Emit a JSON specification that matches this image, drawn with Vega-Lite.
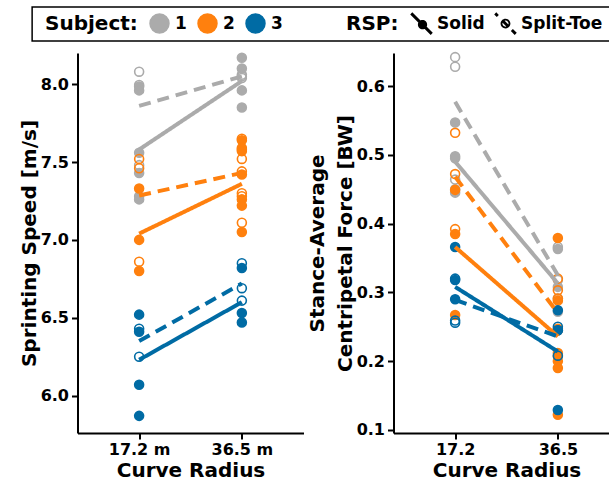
{
  "$schema": "https://vega.github.io/schema/vega-lite/v6.json",
  "padding": {"left": 19, "top": 6, "right": 0, "bottom": 0},
  "datasets": {
    "pts": [
      {"metric": "speed", "subject": "1", "rsp": "Solid", "radius": "17.2", "value": 7.985},
      {"metric": "speed", "subject": "1", "rsp": "Solid", "radius": "17.2", "value": 7.96},
      {"metric": "speed", "subject": "1", "rsp": "Solid", "radius": "17.2", "value": 7.56},
      {"metric": "speed", "subject": "1", "rsp": "Solid", "radius": "17.2", "value": 7.43},
      {"metric": "speed", "subject": "1", "rsp": "Solid", "radius": "17.2", "value": 7.28},
      {"metric": "speed", "subject": "1", "rsp": "Solid", "radius": "17.2", "value": 7.26},
      {"metric": "speed", "subject": "1", "rsp": "Split-Toe", "radius": "17.2", "value": 8.08},
      {"metric": "speed", "subject": "1", "rsp": "Split-Toe", "radius": "17.2", "value": 7.995},
      {"metric": "speed", "subject": "1", "rsp": "Split-Toe", "radius": "17.2", "value": 7.48},
      {"metric": "speed", "subject": "1", "rsp": "Solid", "radius": "36.5", "value": 8.17},
      {"metric": "speed", "subject": "1", "rsp": "Solid", "radius": "36.5", "value": 8.10},
      {"metric": "speed", "subject": "1", "rsp": "Solid", "radius": "36.5", "value": 7.96},
      {"metric": "speed", "subject": "1", "rsp": "Solid", "radius": "36.5", "value": 7.85},
      {"metric": "speed", "subject": "1", "rsp": "Split-Toe", "radius": "36.5", "value": 8.06},
      {"metric": "speed", "subject": "1", "rsp": "Split-Toe", "radius": "36.5", "value": 8.05},
      {"metric": "speed", "subject": "1", "rsp": "Split-Toe", "radius": "36.5", "value": 8.04},
      {"metric": "speed", "subject": "2", "rsp": "Solid", "radius": "17.2", "value": 7.33},
      {"metric": "speed", "subject": "2", "rsp": "Solid", "radius": "17.2", "value": 7.00},
      {"metric": "speed", "subject": "2", "rsp": "Solid", "radius": "17.2", "value": 6.80},
      {"metric": "speed", "subject": "2", "rsp": "Split-Toe", "radius": "17.2", "value": 7.52},
      {"metric": "speed", "subject": "2", "rsp": "Split-Toe", "radius": "17.2", "value": 7.46},
      {"metric": "speed", "subject": "2", "rsp": "Split-Toe", "radius": "17.2", "value": 6.86},
      {"metric": "speed", "subject": "2", "rsp": "Solid", "radius": "36.5", "value": 7.64},
      {"metric": "speed", "subject": "2", "rsp": "Solid", "radius": "36.5", "value": 7.59},
      {"metric": "speed", "subject": "2", "rsp": "Solid", "radius": "36.5", "value": 7.57},
      {"metric": "speed", "subject": "2", "rsp": "Solid", "radius": "36.5", "value": 7.42},
      {"metric": "speed", "subject": "2", "rsp": "Solid", "radius": "36.5", "value": 7.26},
      {"metric": "speed", "subject": "2", "rsp": "Solid", "radius": "36.5", "value": 7.22},
      {"metric": "speed", "subject": "2", "rsp": "Solid", "radius": "36.5", "value": 7.05},
      {"metric": "speed", "subject": "2", "rsp": "Split-Toe", "radius": "36.5", "value": 7.65},
      {"metric": "speed", "subject": "2", "rsp": "Split-Toe", "radius": "36.5", "value": 7.58},
      {"metric": "speed", "subject": "2", "rsp": "Split-Toe", "radius": "36.5", "value": 7.52},
      {"metric": "speed", "subject": "2", "rsp": "Split-Toe", "radius": "36.5", "value": 7.44},
      {"metric": "speed", "subject": "2", "rsp": "Split-Toe", "radius": "36.5", "value": 7.30},
      {"metric": "speed", "subject": "2", "rsp": "Split-Toe", "radius": "36.5", "value": 7.28},
      {"metric": "speed", "subject": "2", "rsp": "Split-Toe", "radius": "36.5", "value": 7.11},
      {"metric": "speed", "subject": "3", "rsp": "Solid", "radius": "17.2", "value": 6.52},
      {"metric": "speed", "subject": "3", "rsp": "Solid", "radius": "17.2", "value": 6.41},
      {"metric": "speed", "subject": "3", "rsp": "Solid", "radius": "17.2", "value": 6.07},
      {"metric": "speed", "subject": "3", "rsp": "Solid", "radius": "17.2", "value": 5.87},
      {"metric": "speed", "subject": "3", "rsp": "Split-Toe", "radius": "17.2", "value": 6.43},
      {"metric": "speed", "subject": "3", "rsp": "Split-Toe", "radius": "17.2", "value": 6.25},
      {"metric": "speed", "subject": "3", "rsp": "Solid", "radius": "36.5", "value": 6.82},
      {"metric": "speed", "subject": "3", "rsp": "Solid", "radius": "36.5", "value": 6.53},
      {"metric": "speed", "subject": "3", "rsp": "Solid", "radius": "36.5", "value": 6.47},
      {"metric": "speed", "subject": "3", "rsp": "Split-Toe", "radius": "36.5", "value": 6.85},
      {"metric": "speed", "subject": "3", "rsp": "Split-Toe", "radius": "36.5", "value": 6.69},
      {"metric": "speed", "subject": "3", "rsp": "Split-Toe", "radius": "36.5", "value": 6.61},

      {"metric": "force", "subject": "1", "rsp": "Solid", "radius": "17.2", "value": 0.547},
      {"metric": "force", "subject": "1", "rsp": "Solid", "radius": "17.2", "value": 0.498},
      {"metric": "force", "subject": "1", "rsp": "Solid", "radius": "17.2", "value": 0.495},
      {"metric": "force", "subject": "1", "rsp": "Solid", "radius": "17.2", "value": 0.450},
      {"metric": "force", "subject": "1", "rsp": "Solid", "radius": "17.2", "value": 0.445},
      {"metric": "force", "subject": "1", "rsp": "Split-Toe", "radius": "17.2", "value": 0.642},
      {"metric": "force", "subject": "1", "rsp": "Split-Toe", "radius": "17.2", "value": 0.628},
      {"metric": "force", "subject": "1", "rsp": "Split-Toe", "radius": "17.2", "value": 0.464},
      {"metric": "force", "subject": "1", "rsp": "Solid", "radius": "36.5", "value": 0.363},
      {"metric": "force", "subject": "1", "rsp": "Solid", "radius": "36.5", "value": 0.308},
      {"metric": "force", "subject": "1", "rsp": "Solid", "radius": "36.5", "value": 0.272},
      {"metric": "force", "subject": "1", "rsp": "Split-Toe", "radius": "36.5", "value": 0.366},
      {"metric": "force", "subject": "1", "rsp": "Split-Toe", "radius": "36.5", "value": 0.318},
      {"metric": "force", "subject": "1", "rsp": "Split-Toe", "radius": "36.5", "value": 0.291},
      {"metric": "force", "subject": "2", "rsp": "Solid", "radius": "17.2", "value": 0.449},
      {"metric": "force", "subject": "2", "rsp": "Solid", "radius": "17.2", "value": 0.385},
      {"metric": "force", "subject": "2", "rsp": "Solid", "radius": "17.2", "value": 0.267},
      {"metric": "force", "subject": "2", "rsp": "Split-Toe", "radius": "17.2", "value": 0.532},
      {"metric": "force", "subject": "2", "rsp": "Split-Toe", "radius": "17.2", "value": 0.472},
      {"metric": "force", "subject": "2", "rsp": "Split-Toe", "radius": "17.2", "value": 0.392},
      {"metric": "force", "subject": "2", "rsp": "Solid", "radius": "36.5", "value": 0.379},
      {"metric": "force", "subject": "2", "rsp": "Solid", "radius": "36.5", "value": 0.288},
      {"metric": "force", "subject": "2", "rsp": "Solid", "radius": "36.5", "value": 0.245},
      {"metric": "force", "subject": "2", "rsp": "Solid", "radius": "36.5", "value": 0.212},
      {"metric": "force", "subject": "2", "rsp": "Solid", "radius": "36.5", "value": 0.200},
      {"metric": "force", "subject": "2", "rsp": "Solid", "radius": "36.5", "value": 0.190},
      {"metric": "force", "subject": "2", "rsp": "Solid", "radius": "36.5", "value": 0.122},
      {"metric": "force", "subject": "2", "rsp": "Split-Toe", "radius": "36.5", "value": 0.320},
      {"metric": "force", "subject": "2", "rsp": "Split-Toe", "radius": "36.5", "value": 0.303},
      {"metric": "force", "subject": "2", "rsp": "Split-Toe", "radius": "36.5", "value": 0.291},
      {"metric": "force", "subject": "2", "rsp": "Split-Toe", "radius": "36.5", "value": 0.247},
      {"metric": "force", "subject": "2", "rsp": "Split-Toe", "radius": "36.5", "value": 0.207},
      {"metric": "force", "subject": "3", "rsp": "Solid", "radius": "17.2", "value": 0.366},
      {"metric": "force", "subject": "3", "rsp": "Solid", "radius": "17.2", "value": 0.318},
      {"metric": "force", "subject": "3", "rsp": "Solid", "radius": "17.2", "value": 0.290},
      {"metric": "force", "subject": "3", "rsp": "Split-Toe", "radius": "17.2", "value": 0.320},
      {"metric": "force", "subject": "3", "rsp": "Split-Toe", "radius": "17.2", "value": 0.259},
      {"metric": "force", "subject": "3", "rsp": "Split-Toe", "radius": "17.2", "value": 0.256},
      {"metric": "force", "subject": "3", "rsp": "Solid", "radius": "36.5", "value": 0.274},
      {"metric": "force", "subject": "3", "rsp": "Solid", "radius": "36.5", "value": 0.245},
      {"metric": "force", "subject": "3", "rsp": "Solid", "radius": "36.5", "value": 0.129},
      {"metric": "force", "subject": "3", "rsp": "Split-Toe", "radius": "36.5", "value": 0.250},
      {"metric": "force", "subject": "3", "rsp": "Split-Toe", "radius": "36.5", "value": 0.245},
      {"metric": "force", "subject": "3", "rsp": "Split-Toe", "radius": "36.5", "value": 0.208}
    ],
    "fit": [
      {"metric": "speed", "subject": "1", "rsp": "Solid", "radius": "17.2", "value": 7.58},
      {"metric": "speed", "subject": "1", "rsp": "Solid", "radius": "36.5", "value": 8.02},
      {"metric": "speed", "subject": "1", "rsp": "Split-Toe", "radius": "17.2", "value": 7.86},
      {"metric": "speed", "subject": "1", "rsp": "Split-Toe", "radius": "36.5", "value": 8.05},
      {"metric": "speed", "subject": "2", "rsp": "Solid", "radius": "17.2", "value": 7.04},
      {"metric": "speed", "subject": "2", "rsp": "Solid", "radius": "36.5", "value": 7.36},
      {"metric": "speed", "subject": "2", "rsp": "Split-Toe", "radius": "17.2", "value": 7.285},
      {"metric": "speed", "subject": "2", "rsp": "Split-Toe", "radius": "36.5", "value": 7.43},
      {"metric": "speed", "subject": "3", "rsp": "Solid", "radius": "17.2", "value": 6.23},
      {"metric": "speed", "subject": "3", "rsp": "Solid", "radius": "36.5", "value": 6.60},
      {"metric": "speed", "subject": "3", "rsp": "Split-Toe", "radius": "17.2", "value": 6.35},
      {"metric": "speed", "subject": "3", "rsp": "Split-Toe", "radius": "36.5", "value": 6.72},
      {"metric": "force", "subject": "1", "rsp": "Solid", "radius": "17.2", "value": 0.490},
      {"metric": "force", "subject": "1", "rsp": "Solid", "radius": "36.5", "value": 0.313},
      {"metric": "force", "subject": "1", "rsp": "Split-Toe", "radius": "17.2", "value": 0.577},
      {"metric": "force", "subject": "1", "rsp": "Split-Toe", "radius": "36.5", "value": 0.325},
      {"metric": "force", "subject": "2", "rsp": "Solid", "radius": "17.2", "value": 0.366},
      {"metric": "force", "subject": "2", "rsp": "Solid", "radius": "36.5", "value": 0.236},
      {"metric": "force", "subject": "2", "rsp": "Split-Toe", "radius": "17.2", "value": 0.468},
      {"metric": "force", "subject": "2", "rsp": "Split-Toe", "radius": "36.5", "value": 0.270},
      {"metric": "force", "subject": "3", "rsp": "Solid", "radius": "17.2", "value": 0.308},
      {"metric": "force", "subject": "3", "rsp": "Solid", "radius": "36.5", "value": 0.214},
      {"metric": "force", "subject": "3", "rsp": "Split-Toe", "radius": "17.2", "value": 0.289},
      {"metric": "force", "subject": "3", "rsp": "Split-Toe", "radius": "36.5", "value": 0.236}
    ]
  },
  "spacing": 7,
  "center": true,
  "vconcat": [
    {
      "width": 632,
      "height": 34,
      "view": {"stroke": "black", "strokeWidth": 1.5},
      "data": {"values": []},
      "mark": {"type": "rule"},
      "encoding": {}
    },
    {
      "spacing": 3,
      "resolve": {"scale": {"y": "independent", "x": "independent"}},
      "hconcat": [
        {
          "width": 226,
          "height": 380,
          "layer": [
            {
              "data": {"name": "pts"},
              "transform": [{"filter": "datum.metric === 'speed'"}],
              "mark": {"type": "circle", "size": 80, "strokeWidth": 1.6, "opacity": 1},
              "encoding": {
                "x": {"field": "radius", "type": "nominal", "scale": {"type": "point", "padding": 0.6},
                      "axis": {"title": "Curve Radius", "labelAngle": 0, "labelExpr": "datum.label + ' m'"}},
                "y": {"field": "value", "type": "quantitative", "scale": {"domain": [5.76, 8.2], "zero": false, "nice": false},
                      "axis": {"title": "Sprinting Speed [m/s]", "values": [6.0, 6.5, 7.0, 7.5, 8.0], "format": ".1f"}},
                "stroke": {"field": "subject", "type": "nominal", "scale": {"domain": ["1", "2", "3"], "range": ["#ABABAB", "#FF800E", "#006BA4"]},
                           "legend": {"title": "Subject:", "orient": "none", "legendX": 7, "legendY": 0, "columnPadding": 8, "titlePadding": 11}},
                "fill": {"field": "subject", "type": "nominal", "scale": {"domain": ["1", "2", "3"], "range": ["#ABABAB", "#FF800E", "#006BA4"]},
                         "legend": {"title": "Subject:", "orient": "none", "legendX": 7, "legendY": 0, "columnPadding": 8, "titlePadding": 11},
                         "condition": {"test": "datum.rsp === 'Split-Toe'", "value": "transparent"}}
              }
            },
            {
              "data": {"name": "pts"},
              "transform": [{"filter": "datum.metric === 'speed'"}],
              "mark": {"type": "point", "filled": true, "opacity": 0, "color": "black"},
              "encoding": {
                "x": {"field": "radius", "type": "nominal"},
                "y": {"field": "value", "type": "quantitative"},
                "shape": {"field": "rsp", "type": "nominal",
                          "scale": {"domain": ["Solid", "Split-Toe"],
                                    "range": ["M-0.9,-1.1L1.1,0.9L0.9,1.1L-1.1,-0.9ZM0.55,0.1A0.45,0.45,0,1,1,-0.35,0.1A0.45,0.45,0,1,1,0.55,0.1Z",
                                              "M-0.9,-1.1L-0.65,-0.85L-0.85,-0.65L-1.1,-0.9ZM-0.2,-0.4L0.4,0.2L0.2,0.4L-0.4,-0.2ZM0.72,0.52L1.1,0.9L0.9,1.1L0.52,0.72ZM0.48,0A0.48,0.48,0,1,1,-0.48,0A0.48,0.48,0,1,1,0.48,0ZM0.3,0A0.3,0.3,0,1,0,-0.3,0A0.3,0.3,0,1,0,0.3,0Z"]},
                          "legend": {"title": "RSP:", "orient": "none", "legendX": 308, "legendY": 0,
                                     "symbolFillColor": "black", "symbolStrokeWidth": 0, "symbolOpacity": 1,
                                     "symbolSize": 420, "titlePadding": 12, "columnPadding": 9}}
              }
            },
            {
              "data": {"name": "fit"},
              "transform": [{"filter": "datum.metric === 'speed'"}],
              "mark": {"type": "line", "strokeWidth": 4},
              "encoding": {
                "x": {"field": "radius", "type": "nominal"},
                "y": {"field": "value", "type": "quantitative"},
                "stroke": {"field": "subject", "type": "nominal", "legend": null},
                "strokeDash": {"field": "rsp", "type": "nominal", "scale": {"domain": ["Solid", "Split-Toe"], "range": [[1, 0], [12, 7]]}, "legend": null},
                "detail": {"field": "rsp"}
              }
            }
          ]
        },
        {
          "width": 226,
          "height": 380,
          "layer": [
            {
              "data": {"name": "pts"},
              "transform": [{"filter": "datum.metric === 'force'"}],
              "mark": {"type": "circle", "size": 80, "strokeWidth": 1.6, "opacity": 1},
              "encoding": {
                "x": {"field": "radius", "type": "nominal", "scale": {"type": "point", "padding": 0.6},
                      "axis": {"title": "Curve Radius", "labelAngle": 0}},
                "y": {"field": "value", "type": "quantitative", "scale": {"domain": [0.0956, 0.648], "zero": false, "nice": false},
                      "axis": {"title": ["Stance-Average", "Centripetal Force [BW]"], "titleLineHeight": 28, "values": [0.1, 0.2, 0.3, 0.4, 0.5, 0.6], "format": ".1f"}},
                "stroke": {"field": "subject", "type": "nominal", "scale": {"domain": ["1", "2", "3"], "range": ["#ABABAB", "#FF800E", "#006BA4"]}},
                "fill": {"field": "subject", "type": "nominal", "scale": {"domain": ["1", "2", "3"], "range": ["#ABABAB", "#FF800E", "#006BA4"]},
                         "condition": {"test": "datum.rsp === 'Split-Toe'", "value": "transparent"}}
              }
            },
            {
              "data": {"name": "fit"},
              "transform": [{"filter": "datum.metric === 'force'"}],
              "mark": {"type": "line", "strokeWidth": 4},
              "encoding": {
                "x": {"field": "radius", "type": "nominal"},
                "y": {"field": "value", "type": "quantitative"},
                "stroke": {"field": "subject", "type": "nominal", "legend": null},
                "strokeDash": {"field": "rsp", "type": "nominal", "scale": {"domain": ["Solid", "Split-Toe"], "range": [[1, 0], [12, 7]]}, "legend": null},
                "detail": {"field": "rsp"}
              }
            }
          ]
        }
      ]
    }
  ],
  "config": {
    "font": "DejaVu Sans",
    "view": {"stroke": null},
    "axis": {
      "domainColor": "black", "domainWidth": 2, "tickColor": "black", "tickWidth": 2, "tickSize": 6,
      "labelColor": "black", "labelFontSize": 16, "labelFontWeight": "bold", "labelPadding": 3,
      "titleColor": "black", "titleFontSize": 20, "titleFontWeight": "bold", "grid": false
    },
    "axisY": {"titlePadding": 1},
    "axisX": {"titlePadding": 3, "labelPadding": 2},
    "legend": {
      "direction": "horizontal", "titleOrient": "left",
      "titleFontSize": 20, "titleFontWeight": "bold", "titleColor": "black", "titlePadding": 10,
      "labelFontSize": 17, "labelFontWeight": "bold", "labelColor": "black", "labelOffset": 5,
      "symbolSize": 360, "padding": 6
    }
  }
}
